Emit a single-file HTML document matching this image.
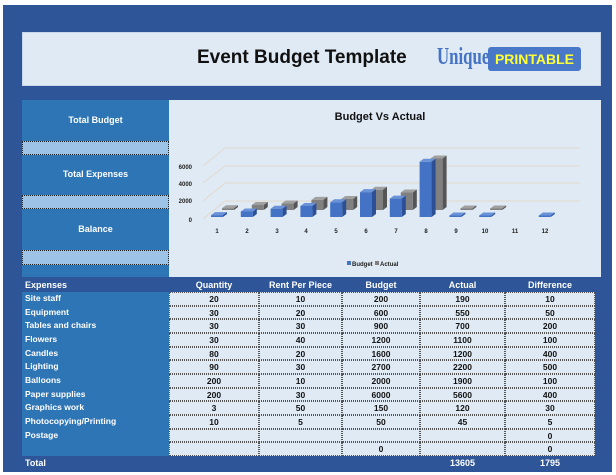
<!DOCTYPE html>
<html><head><meta charset="utf-8"><style>
body{margin:0;width:616px;height:475px;background:#fff;position:relative;overflow:hidden;font-family:"Liberation Sans",sans-serif}
.a{position:absolute}
</style></head><body>
<div class="a" style="left:3px;top:5px;width:609px;height:467px;background:#2e5597"></div>
<div class="a" style="left:22px;top:32px;width:579px;height:54px;background:#dfeaf5;border:1px solid #c8d8ea;box-sizing:border-box"></div>
<div class="a" style="left:197px;top:47px;font-size:19px;font-weight:bold;color:#111">Event Budget Template</div>
<div class="a" style="left:437px;top:44px;font-family:'Liberation Serif',serif;font-size:24px;font-weight:bold;color:#4472c4;transform:scaleX(0.7);transform-origin:left">Unique</div>
<div class="a" style="left:488px;top:47px;width:93px;height:24px;background:#4a78c8;border-radius:3px;color:#ffff33;font-size:14px;font-weight:bold;line-height:24px;text-align:center">PRINTABLE</div>
<div class="a" style="left:22px;top:100px;width:147px;height:177px;background:#2e75b6"></div>
<div class="a" style="left:22px;top:141px;width:147px;height:14px;background:#9dc3e6;border:1px dotted #222;box-sizing:border-box"></div>
<div class="a" style="left:22px;top:195px;width:147px;height:14px;background:#9dc3e6;border:1px dotted #222;box-sizing:border-box"></div>
<div class="a" style="left:22px;top:250px;width:147px;height:15px;background:#9dc3e6;border:1px dotted #222;box-sizing:border-box"></div>
<div class="a" style="left:22px;top:115px;width:147px;text-align:center;color:#fff;font-size:9px;font-weight:bold">Total Budget</div>
<div class="a" style="left:22px;top:169px;width:147px;text-align:center;color:#fff;font-size:9px;font-weight:bold">Total Expenses</div>
<div class="a" style="left:22px;top:224px;width:147px;text-align:center;color:#fff;font-size:9px;font-weight:bold">Balance</div>
<div class="a" style="left:169px;top:100px;width:432px;height:177px;background:#dfeaf5"></div>
<svg id="sv" class="a" style="left:0;top:0" width="616" height="475">
<text x="380" y="120" font-size="11" font-weight="bold" text-anchor="middle" fill="#111" font-family="Liberation Sans">Budget Vs Actual</text>
<g stroke="#e3d9cc" stroke-width="1" fill="none">
<path d="M203 219 L225 201 L580 201"/><path d="M203 201 L225 183 L580 183"/><path d="M203 183 L225 166 L580 166"/><path d="M203 166 L225 148 L580 148"/>
</g>
<g font-size="6" font-weight="bold" fill="#222" font-family="Liberation Sans" text-anchor="end">
<text x="192" y="169">6000</text><text x="192" y="186">4000</text><text x="192" y="203">2000</text><text x="192" y="222">0</text>
</g>
<g id="bars"></g>
<g font-size="6" font-weight="bold" fill="#222" font-family="Liberation Sans" text-anchor="middle">
<text x="217" y="233">1</text><text x="247" y="233">2</text><text x="277" y="233">3</text><text x="306" y="233">4</text><text x="336" y="233">5</text><text x="366" y="233">6</text><text x="396" y="233">7</text><text x="426" y="233">8</text><text x="456" y="233">9</text><text x="485" y="233">10</text><text x="515" y="233">11</text><text x="545" y="233">12</text>
</g>
<rect x="347" y="261" width="4" height="4" fill="#4472c4"/><text x="352" y="266" font-size="6" font-weight="bold" fill="#222" font-family="Liberation Sans">Budget</text>
<rect x="375" y="261" width="4" height="4" fill="#7f7f7f"/><text x="380" y="266" font-size="6" font-weight="bold" fill="#222" font-family="Liberation Sans">Actual</text>
</svg>
<div class="a" style="left:22px;top:279px;width:579px;height:13px;color:#fff;font-size:9px;font-weight:bold">
<span class="a" style="left:3px;top:1px">Expenses</span><span class="a" style="left:147px;width:90px;text-align:center;top:1px">Quantity</span><span class="a" style="left:237px;width:83px;text-align:center;top:1px">Rent Per Piece</span><span class="a" style="left:320px;width:78px;text-align:center;top:1px">Budget</span><span class="a" style="left:398px;width:85px;text-align:center;top:1px">Actual</span><span class="a" style="left:483px;width:90px;text-align:center;top:1px">Difference</span></div>
<div class="a" style="left:22px;top:292px;width:147px;height:164px;background:#2e75b6"></div>
<div class="a" style="left:169px;top:292px;width:426px;height:164px;background:#dfeaf5"></div>
<div id="tb"></div>
<div class="a" style="left:22px;top:457px;width:579px;height:13px;color:#fff;font-size:9px;font-weight:bold">
<span class="a" style="left:3px;top:1px">Total</span><span class="a" style="left:398px;width:85px;text-align:center;top:1px">13605</span><span class="a" style="left:483px;width:90px;text-align:center;top:1px">1795</span></div>
<script>
var b=[200,600,900,1200,1600,2700,2000,6000,150,50,0,0],a=[190,550,700,1100,1200,2200,1900,5600,120,45,0,0];
var g=document.getElementById('bars'),NS='http://www.w3.org/2000/svg';
function el(t,at){var e=document.createElementNS(NS,t);for(var k in at)e.setAttribute(k,at[k]);g.appendChild(e);}
function bar(x,y0,h,f,t,sd){h=Math.max(h,1.5);var y=y0-h;
el('path',{d:'M'+x+' '+y+' l4 -3 l12 0 l-4 3z',fill:t});
el('path',{d:'M'+(x+12)+' '+y+' l4 -3 l0 '+h+' l-4 3z',fill:sd});
el('rect',{x:x,y:y,width:12,height:h,fill:f});}
for(var i=0;i<12;i++){var x=211+i*29.8;
if(i<10)bar(x+11,210,a[i]*0.0092,'#808080','#a0a0a0','#555');
if(i!=10)bar(x,217,b[i]*0.0092,'#4472c4','#6a92d8','#2c4f96');}
var R=[["Site staff",20,10,200,190,10],["Equipment",30,20,600,550,50],["Tables and chairs",30,30,900,700,200],["Flowers",30,40,1200,1100,100],["Candles",80,20,1600,1200,400],["Lighting",90,30,2700,2200,500],["Balloons",200,10,2000,1900,100],["Paper supplies",200,30,6000,5600,400],["Graphics work",3,50,150,120,30],["Photocopying/Printing",10,5,50,45,5],["Postage","","","","",0],["","","",0,"",0]];
var L=[169,259,342,420,505,595],h='';
for(var i=0;i<12;i++){var y=292+i*13.67,r=R[i];
h+='<div class="a" style="left:25px;top:'+(y+1)+'px;color:#fff;font-size:8.5px;font-weight:bold">'+r[0]+'</div>';
for(var j=0;j<5;j++)h+='<div class="a" style="left:'+L[j]+'px;top:'+y+'px;width:'+(L[j+1]-L[j])+'px;height:13.67px;box-sizing:border-box;border:1px dotted #555;line-height:12px;text-align:center;font-size:8.5px;font-weight:bold;color:#111">'+r[j+1]+'</div>';}
document.getElementById('tb').innerHTML=h;
</script>
</body></html>
